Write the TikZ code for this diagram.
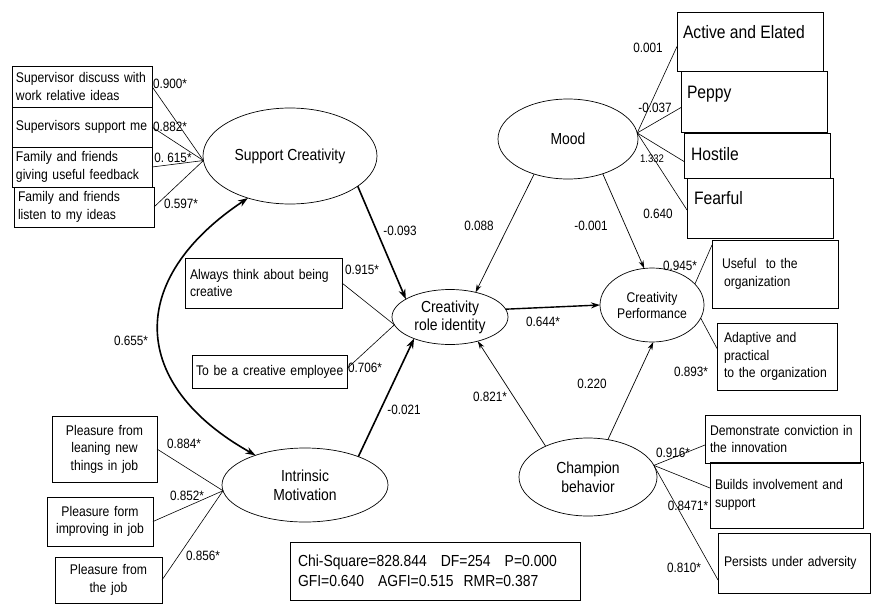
\documentclass[tikz,border=0pt]{standalone}
\usepackage{fontspec}
\setmainfont[FakeStretch=0.87]{Liberation Sans}
\usetikzlibrary{shapes.geometric,arrows.meta,calc}
\hyphenpenalty=10000
\exhyphenpenalty=10000
\begin{document}
\begin{tikzpicture}[x=1pt,y=-1pt,
  every node/.style={inner sep=0pt, outer sep=0pt},
  lat/.style={draw, ellipse, line width=0.7pt, align=center, font=\fontsize{16}{19}\selectfont},
  obs/.style={draw, line width=0.7pt, anchor=north west, align=left, font=\fontsize{14}{17.5}\selectfont},
  obsc/.style={obs, align=center},
  mtext/.style={anchor=base west, font=\fontsize{18}{20}\selectfont},
  lab/.style={font=\fontsize{13.5}{15}\selectfont},
  ld/.style={line width=0.6pt},
  arr/.style={line width=0.7pt, -{Stealth[length=8pt,width=5pt]}},
  barr/.style={line width=1.6pt, -{Stealth[length=10pt,width=7pt]}},
  barr2/.style={line width=1.6pt, {Stealth[length=10pt,width=7pt]}-{Stealth[length=10pt,width=7pt]}}
]
\useasboundingbox (0,0) rectangle (874,605);
\fill[white] (0,0) rectangle (874,605);

% latent variables
\node[lat, minimum width=174pt, minimum height=96pt] (sc) at (290,156) {Support Creativity};
\node[lat, minimum width=166pt, minimum height=74pt] (im) at (305,485) {Intrinsic\\Motivation};
\node[lat, minimum width=116pt, minimum height=55pt, font=\fontsize{16}{18}\selectfont] (cri) at (450,317) {Creativity\\role identity};
\node[lat, minimum width=140pt, minimum height=80pt] (mood) at (568,139) {Mood};
\node[lat, minimum width=104pt, minimum height=74pt, font=\fontsize{14}{16}\selectfont] (cp) at (652,305) {Creativity\\Performance};
\node[lat, minimum width=138pt, minimum height=78pt] (ch) at (588,477) {Champion\\behavior};

% Support creativity indicators
\node[obs, minimum width=140pt, minimum height=41pt, text width=132pt] (s1) at (12,66) {Supervisor discuss with\\work relative ideas};
\node[obs, minimum width=140pt, minimum height=40pt, text width=132pt] (s2) at (12,107) {Supervisors support me};
\node[obs, minimum width=140pt, minimum height=40pt, text width=132pt] (s3) at (12,147) {Family and friends\\giving useful feedback};
\node[obs, minimum width=140pt, minimum height=40pt, text width=132pt] (s4) at (14,187) {Family and friends\\listen to my ideas};
\foreach \b in {s1,s2,s3,s4} \draw[ld] (\b.east) -- (sc.183);
\node[lab] (l1) at (170,84) {0.900*};
\node[lab] (l2) at (170,127) {0.882*};
\node[lab] (l3) at (173,158) {0.\ 615*};
\node[lab] (l4) at (181,204) {0.597*};

% Intrinsic motivation indicators
\node[obsc, minimum width=105pt, minimum height=66pt, text width=97pt] (i1) at (52,416) {Pleasure from\\leaning new\\things in job};
\node[obsc, minimum width=106pt, minimum height=49pt, text width=98pt] (i2) at (47,497) {Pleasure form\\improving in job};
\node[obsc, minimum width=107pt, minimum height=46pt, text width=99pt] (i3) at (55,557) {Pleasure from\\the job};
\foreach \b in {i1,i2,i3} \draw[ld] (\b.east) -- (im.184);
\node[lab] (l5) at (184,444) {0.884*};
\node[lab] (l6) at (187,496) {0.852*};
\node[lab] (l7) at (203,556) {0.856*};

% Creativity role identity indicators
\node[obs, minimum width=157pt, minimum height=50pt, text width=147pt] (a1) at (185,258) {Always think about being\\creative};
\node[obs, minimum width=155pt, minimum height=33pt, text width=147pt] (a2) at (192,355) {\mbox{To be a creative employee}};
\draw[ld] (a1.east) -- (cri.188);
\draw[ld] ([yshift=3pt]a2.east) -- (cri.188);
\node[lab] (l8) at (362,270) {0.915*};
\node[lab] (l9) at (365,368) {0.706*};

% Mood indicators
\node[obs, minimum width=146pt, minimum height=59pt] (ae) at (677,12) {};
\node[obs, minimum width=146pt, minimum height=61pt] (pe) at (681,71) {};
\node[obs, minimum width=146pt, minimum height=45pt] (ho) at (684,133) {};
\node[obs, minimum width=146pt, minimum height=60pt] (fe) at (687,178) {};
\node[mtext] (aet) at ($(ae.north west)+(6,26)$) {Active and Elated};
\node[mtext] (pet) at ($(pe.north west)+(6,27)$) {Peppy};
\node[mtext] (hot) at ($(ho.north west)+(7,27)$) {Hostile};
\node[mtext] (fet) at ($(fe.north west)+(7,26)$) {Fearful};
\draw[ld] (mood.5) -- ([yshift=-5pt]ae.west);
\draw[ld] (mood.5) -- ([yshift=-6pt]pe.west);
\draw[ld] (mood.5) -- ([yshift=-6pt]ho.west);
\draw[ld] (mood.5) -- ([yshift=-2pt]fe.west);
\node[lab] (l10) at (648,48) {0.001};
\node[lab] (l11) at (655,108) {-0.037};
\node[lab, font=\fontsize{11}{12}\selectfont] (l12) at (652,159) {1.332};
\node[lab] (l13) at (658,214) {0.640};

% Creativity performance indicators
\node[obs, minimum width=126pt, minimum height=68pt, text width=106pt] (use) at (712,240) {Useful\ \ to the\\\hspace{2pt}organization};
\node[obs, minimum width=120pt, minimum height=67pt, text width=106pt] (adp) at (717,323) {Adaptive and\\practical\\to the organization};
\draw[ld] (cp.26) -- ([yshift=-5pt]use.north west);
\draw[ld] (cp.-15) -- ([yshift=8pt]adp.west);
\node[lab] (l14) at (680,266) {0.945*};
\node[lab] (l15) at (691,372) {0.893*};

% Champion behavior indicators
\node[obs, minimum width=155pt, minimum height=48pt, text width=145pt] (dem) at (705,415) {Demonstrate conviction in\\the innovation};
\node[obs, minimum width=153pt, minimum height=66pt, text width=143pt] (bui) at (710,462) {Builds involvement and\\support};
\node[obs, minimum width=152pt, minimum height=60pt, text width=140pt] (per) at (718,533) {Persists under adversity};
\draw[ld] (ch.10) -- ([yshift=-6pt]dem.west);
\draw[ld] (ch.10) -- ([yshift=7pt]bui.west);
\draw[ld] (ch.10) -- ([yshift=-17pt]per.west);
\node[lab] (l16) at (673,453) {0.916*};
\node[lab] (l17) at (688,506) {0.8471*};
\node[lab] (l18) at (684,568) {0.810*};

% structural paths
\draw[barr] (sc.-24) -- (cri.158);
\draw[barr] (im.28) -- (cri.-149);
\draw[arr] (mood.-134) -- (cri.44);
\draw[arr] (mood.-45) -- (cp.102);
\draw[line width=1.4pt, -{Stealth[length=9pt,width=6pt]}] (cri.8) -- (cp.west);
\draw[arr] (ch.144) -- (cri.-41);
\draw[arr] (ch.62) -- (cp.-88);
\draw[barr2] (sc.-135) .. controls (125,280) and (130,385) .. (im.149);

\node[lab] (p1) at (400,231) {-0.093};
\node[lab] (p2) at (479,226) {0.088};
\node[lab] (p3) at (591,226) {-0.001};
\node[lab] (p4) at (543,322) {0.644*};
\node[lab] (p5) at (131,341) {0.655*};
\node[lab] (p6) at (490,397) {0.821*};
\node[lab] (p7) at (592,384) {0.220};
\node[lab] (p8) at (404,410) {-0.021};

% fit box
\node[obs, minimum width=290pt, minimum height=58pt, text width=274pt, font=\fontsize{16}{20}\selectfont] (fit) at (290,542) {Chi-Square=828.844\hspace{14pt}DF=254\hspace{14pt}P=0.000\\GFI=0.640\hspace{14pt}AGFI=0.515\hspace{10pt}RMR=0.387};
\end{tikzpicture}
\end{document}
